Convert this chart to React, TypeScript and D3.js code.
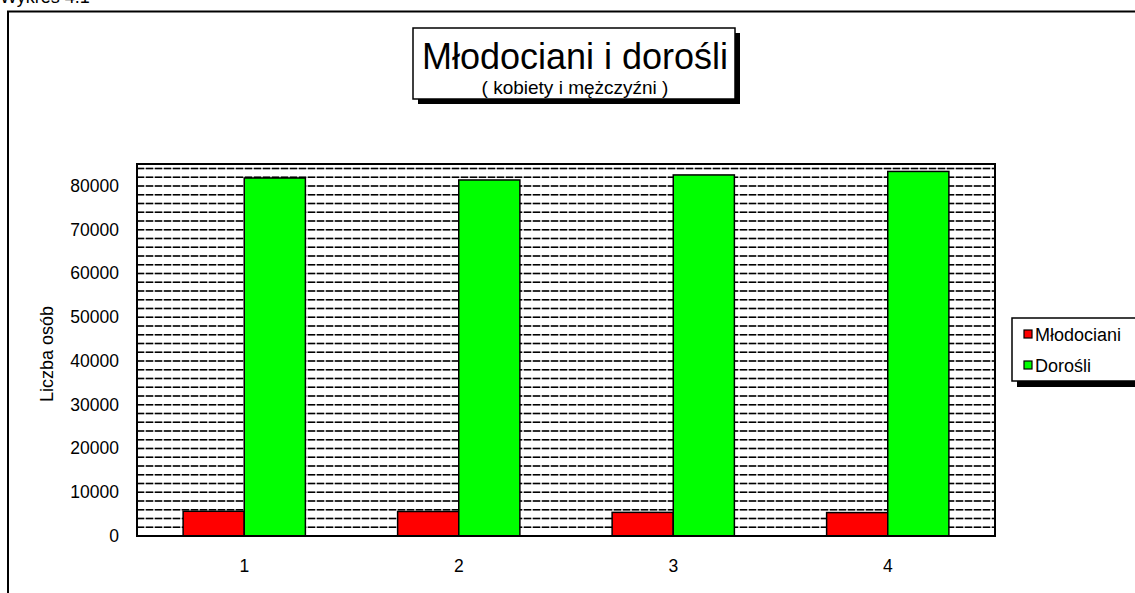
import React from "react";
import * as d3 from "d3";

const categories = ["1", "2", "3", "4"];
const mlodociani = [5650, 5600, 5400, 5350];
const dorosli = [81800, 81350, 82500, 83300];
const yTicks = [0, 10000, 20000, 30000, 40000, 50000, 60000, 70000, 80000];
const seriesNames = ["Młodociani", "Dorośli"];
const seriesColors = ["#ff0000", "#00ff00"];

const W = 1135, H = 593;
const M = { left: 137, right: 995, top: 164, bottom: 536 };

export default function App() {
  const x = d3.scaleBand<string>().domain(categories).range([M.left, M.right]);
  const y = d3.scaleLinear().domain([0, 85000]).range([M.bottom, M.top]);
  const barW = x.bandwidth() * 0.285;
  const grid = d3.range(2000, 85000, 2000);
  const font = "Arial, 'Liberation Sans', sans-serif";

  return (
    <svg width={W} height={H} style={{ position: "absolute", left: 0, top: 0, background: "#fff" }} fontFamily={font}>
      <text x={0} y={3} fontSize={18} fill="#000">Wykres 4.1</text>
      {/* outer frame */}
      <path d={`M8,${H + 5} L8,11.5 L${W + 5},11.5`} fill="none" stroke="#000" strokeWidth={2} />

      {/* title box */}
      <rect x={418} y={33} width={322} height={71} fill="#000" />
      <rect x={413} y={28} width={322} height={71} fill="#fff" stroke="#000" strokeWidth={1.5} />
      <text x={575} y={68.5} textAnchor="middle" fontSize={36}>Młodociani i dorośli</text>
      <text x={575} y={93.5} textAnchor="middle" fontSize={19}>( kobiety i mężczyźni )</text>

      {/* plot area */}
      <rect x={M.left} y={M.top} width={M.right - M.left} height={M.bottom - M.top} fill="#fff" />
      {grid.map((v) => (
        <g key={v}>
          <line x1={M.left} x2={M.right} y1={y(v)} y2={y(v)} stroke="#aaa" strokeWidth={1.5} />
          <line x1={M.left} x2={M.right} y1={y(v)} y2={y(v)} stroke="#000" strokeWidth={1.5} strokeDasharray="7,2" />
        </g>
      ))}
      {categories.map((c, i) => {
        const cx = (x(c) as number) + x.bandwidth() / 2;
        return (
          <g key={c}>
            <rect x={cx - barW} y={y(mlodociani[i])} width={barW} height={y(0) - y(mlodociani[i])}
              fill={seriesColors[0]} stroke="#000" strokeWidth={1.5} />
            <rect x={cx} y={y(dorosli[i])} width={barW} height={y(0) - y(dorosli[i])}
              fill={seriesColors[1]} stroke="#000" strokeWidth={1.5} />
            <text x={cx} y={572} textAnchor="middle" fontSize={17.5}>{c}</text>
          </g>
        );
      })}
      <rect x={M.left} y={M.top} width={M.right - M.left} height={M.bottom - M.top} fill="none" stroke="#000" strokeWidth={2} />

      {yTicks.map((t) => (
        <text key={t} x={119} y={y(t) + 6} textAnchor="end" fontSize={17.5}>{t}</text>
      ))}
      <text transform={`translate(53,${(M.top + M.bottom) / 2 + 4}) rotate(-90)`} textAnchor="middle" fontSize={18}>Liczba osób</text>

      {/* legend */}
      <rect x={1017} y={323} width={130} height={64} fill="#000" />
      <rect x={1012} y={318} width={130} height={63} fill="#fff" stroke="#000" strokeWidth={1.5} />
      {seriesNames.map((n, i) => (
        <g key={n}>
          <rect x={1024} y={330 + i * 31} width={8} height={8} fill={seriesColors[i]} stroke="#000" strokeWidth={1.2} />
          <text x={1035} y={340.5 + i * 31} fontSize={18}>{n}</text>
        </g>
      ))}
    </svg>
  );
}
